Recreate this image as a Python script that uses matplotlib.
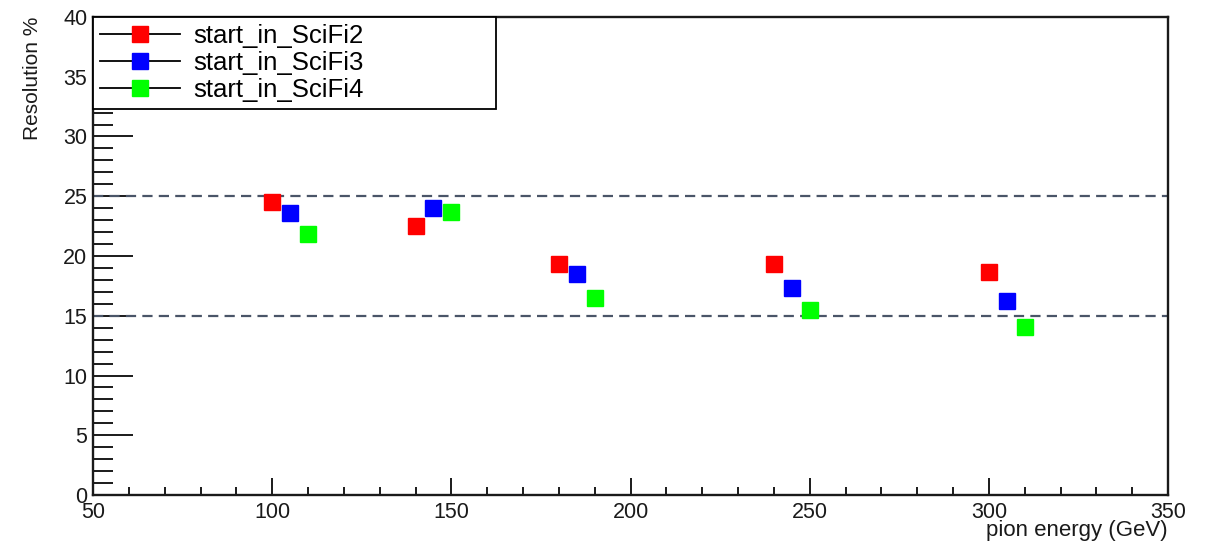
import matplotlib
matplotlib.use("Agg")
import matplotlib.pyplot as plt
from matplotlib.ticker import MultipleLocator
from matplotlib.lines import Line2D

plt.rcParams['font.family'] = ['Liberation Sans', 'DejaVu Sans']

# data
energy_2 = [100, 140, 180, 240, 300]
res_2 = [24.5, 22.5, 19.3, 19.3, 18.7]
energy_3 = [105, 145, 185, 245, 305]
res_3 = [23.6, 24.0, 18.5, 17.3, 16.2]
energy_4 = [110, 150, 190, 250, 310]
res_4 = [21.8, 23.7, 16.5, 15.5, 14.1]
labels = ["start_in_SciFi2", "start_in_SciFi3", "start_in_SciFi4"]
colors = ["#ff0000", "#0000ff", "#00ff00"]
ref_lines = [25, 15]

fig = plt.figure(figsize=(12.11, 5.44), dpi=100)
ax = fig.add_axes([93/1211, 1-495/544, (1168-93)/1211, (495-17)/544])

series = [(energy_2, res_2), (energy_3, res_3), (energy_4, res_4)]
for (x, y), lab, c in zip(series, labels, colors):
    ax.plot(x, y, linestyle='none', marker='s', markersize=11,
            markerfacecolor=c, markeredgecolor=c, label=lab, zorder=3)

for v in ref_lines:
    ax.axhline(v, color='#4a5568', lw=1.6, linestyle=(0, (4.6, 2.8)), zorder=2)

ax.set_xlim(50, 350)
ax.set_ylim(0, 40)
ax.xaxis.set_major_locator(MultipleLocator(50))
ax.xaxis.set_minor_locator(MultipleLocator(10))
ax.yaxis.set_major_locator(MultipleLocator(5))
ax.yaxis.set_minor_locator(MultipleLocator(1))

ax.tick_params(axis='both', which='both', direction='in', colors='#1a1a1a',
               labelsize=15.5, labelcolor='#1a1a1a', width=1.4)
ax.tick_params(axis='y', which='major', length=29, pad=4)
ax.tick_params(axis='y', which='minor', length=14.5)
ax.tick_params(axis='x', which='major', length=12, pad=5)
ax.tick_params(axis='x', which='minor', length=6)

for s in ax.spines.values():
    s.set_linewidth(1.7)
    s.set_color('#1a1a1a')

ax.set_ylabel("Resolution %", fontsize=15, loc='top', color='#1a1a1a')
ax.yaxis.set_label_coords(-0.047, 1.0)
ax.set_xlabel("pion energy (GeV)", fontsize=16, loc='right', color='#1a1a1a', labelpad=-2)

# legend with line through marker, ROOT style
handles = [Line2D([0], [0], color='black', lw=1.3, marker='s', markersize=11,
                  markerfacecolor=c, markeredgecolor=c) for c in colors]
leg = ax.legend(handles, labels, loc='upper left', bbox_to_anchor=(0, 0.5, 403/1075, 0.5),
                mode='expand', borderaxespad=0, fancybox=False, fontsize=18.5,
                handlelength=3.1, handletextpad=0.55, labelspacing=0.12,
                borderpad=0.27, framealpha=1, edgecolor='black')
leg.get_frame().set_linewidth(1.3)
leg.set_zorder(5)

fig.savefig("out.png", dpi=100)
